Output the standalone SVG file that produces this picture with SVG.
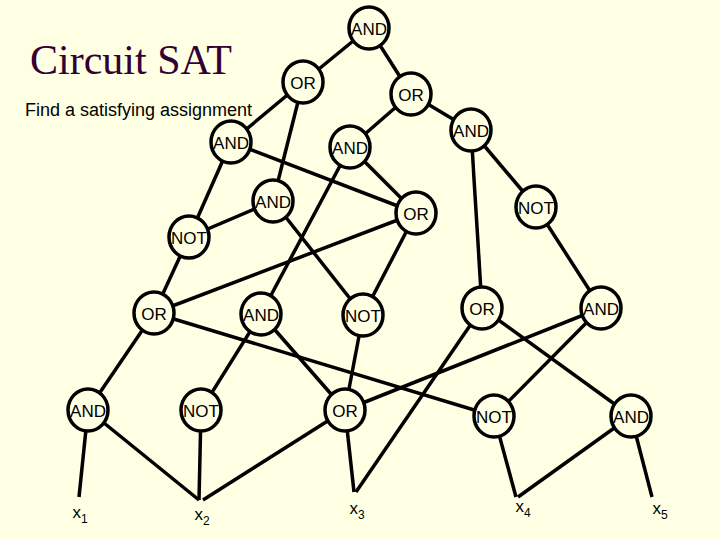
<svg xmlns="http://www.w3.org/2000/svg" width="720" height="540" viewBox="0 0 720 540">
<style>
.n ellipse{fill:#FFFFE3;stroke:#000;stroke-width:3.5}
.n text,.v{font-family:"Liberation Sans",Arial,sans-serif;font-size:17px;text-anchor:middle}
.n text{dominant-baseline:central}
#edges line{stroke:#000;stroke-width:3.5}
</style>
<rect width="720" height="540" fill="#FFFFE3"/>
<text x="30" y="74" font-family="Liberation Serif,serif" font-size="42" fill="#330033">Circuit SAT</text>
<text x="25" y="116" font-family="Liberation Sans,sans-serif" font-size="18">Find a satisfying assignment</text>
<g id="edges">
<line x1="369" y1="28" x2="303" y2="82"/><line x1="369" y1="28" x2="411" y2="94"/>
<line x1="303" y1="82" x2="231" y2="142"/><line x1="303" y1="82" x2="273" y2="201"/>
<line x1="411" y1="94" x2="350" y2="147"/><line x1="411" y1="94" x2="471" y2="130"/>
<line x1="231" y1="142" x2="189" y2="237"/><line x1="231" y1="142" x2="416" y2="213"/>
<line x1="350" y1="147" x2="416" y2="213"/><line x1="350" y1="147" x2="261" y2="314"/>
<line x1="471" y1="130" x2="482" y2="308"/><line x1="471" y1="130" x2="536" y2="207"/>
<line x1="273" y1="201" x2="189" y2="237"/><line x1="273" y1="201" x2="363" y2="315"/>
<line x1="416" y1="213" x2="154" y2="313"/><line x1="416" y1="213" x2="363" y2="315"/>
<line x1="189" y1="237" x2="154" y2="313"/><line x1="536" y1="207" x2="601" y2="308"/>
<line x1="154" y1="313" x2="88" y2="410"/><line x1="154" y1="313" x2="494" y2="416"/>
<line x1="261" y1="314" x2="201" y2="410"/><line x1="261" y1="314" x2="345" y2="410"/>
<line x1="363" y1="315" x2="345" y2="410"/>
<line x1="482" y1="308" x2="356" y2="492"/><line x1="482" y1="308" x2="631" y2="416"/>
<line x1="601" y1="308" x2="345" y2="410"/><line x1="601" y1="308" x2="494" y2="416"/>
<line x1="88" y1="410" x2="79" y2="497"/><line x1="88" y1="410" x2="199" y2="500"/>
<line x1="201" y1="410" x2="199" y2="500"/>
<line x1="345" y1="410" x2="203" y2="500"/><line x1="345" y1="410" x2="354" y2="492"/>
<line x1="494" y1="416" x2="516" y2="497"/>
<line x1="631" y1="416" x2="518" y2="497"/><line x1="631" y1="416" x2="652" y2="497"/>
</g>
<g id="g1" class="n"><ellipse cx="369" cy="28" rx="20" ry="21"/><text x="369" y="29">AND</text></g>
<g id="g2" class="n"><ellipse cx="303" cy="82" rx="20" ry="21"/><text x="303" y="83">OR</text></g>
<g id="g3" class="n"><ellipse cx="411" cy="94" rx="20" ry="21"/><text x="411" y="95">OR</text></g>
<g id="g4" class="n"><ellipse cx="231" cy="142" rx="20" ry="21"/><text x="231" y="143">AND</text></g>
<g id="g5" class="n"><ellipse cx="350" cy="147" rx="20" ry="21"/><text x="350" y="148">AND</text></g>
<g id="g6" class="n"><ellipse cx="471" cy="130" rx="20" ry="21"/><text x="471" y="131">AND</text></g>
<g id="g7" class="n"><ellipse cx="273" cy="201" rx="20" ry="21"/><text x="273" y="202">AND</text></g>
<g id="g8" class="n"><ellipse cx="416" cy="213" rx="20" ry="21"/><text x="416" y="214">OR</text></g>
<g id="g9" class="n"><ellipse cx="189" cy="237" rx="20" ry="21"/><text x="189" y="238">NOT</text></g>
<g id="g10" class="n"><ellipse cx="536" cy="207" rx="20" ry="21"/><text x="536" y="208">NOT</text></g>
<g id="g11" class="n"><ellipse cx="154" cy="313" rx="20" ry="21"/><text x="154" y="314">OR</text></g>
<g id="g12" class="n"><ellipse cx="261" cy="314" rx="20" ry="21"/><text x="261" y="315">AND</text></g>
<g id="g13" class="n"><ellipse cx="363" cy="315" rx="20" ry="21"/><text x="363" y="316">NOT</text></g>
<g id="g14" class="n"><ellipse cx="482" cy="308" rx="20" ry="21"/><text x="482" y="309">OR</text></g>
<g id="g15" class="n"><ellipse cx="601" cy="308" rx="20" ry="21"/><text x="601" y="309">AND</text></g>
<g id="g16" class="n"><ellipse cx="88" cy="410" rx="20" ry="21"/><text x="88" y="411">AND</text></g>
<g id="g17" class="n"><ellipse cx="201" cy="410" rx="20" ry="21"/><text x="201" y="411">NOT</text></g>
<g id="g18" class="n"><ellipse cx="345" cy="410" rx="20" ry="21"/><text x="345" y="411">OR</text></g>
<g id="g19" class="n"><ellipse cx="494" cy="416" rx="20" ry="21"/><text x="494" y="417">NOT</text></g>
<g id="g20" class="n"><ellipse cx="631" cy="416" rx="20" ry="21"/><text x="631" y="417">AND</text></g>
<g id="vars">
<text class="v" x="80" y="518">x<tspan font-size="12" dy="5">1</tspan></text>
<text class="v" x="202" y="520">x<tspan font-size="12" dy="5">2</tspan></text>
<text class="v" x="357" y="514">x<tspan font-size="12" dy="5">3</tspan></text>
<text class="v" x="523" y="512">x<tspan font-size="12" dy="5">4</tspan></text>
<text class="v" x="660" y="514">x<tspan font-size="12" dy="5">5</tspan></text>
</g>
</svg>
